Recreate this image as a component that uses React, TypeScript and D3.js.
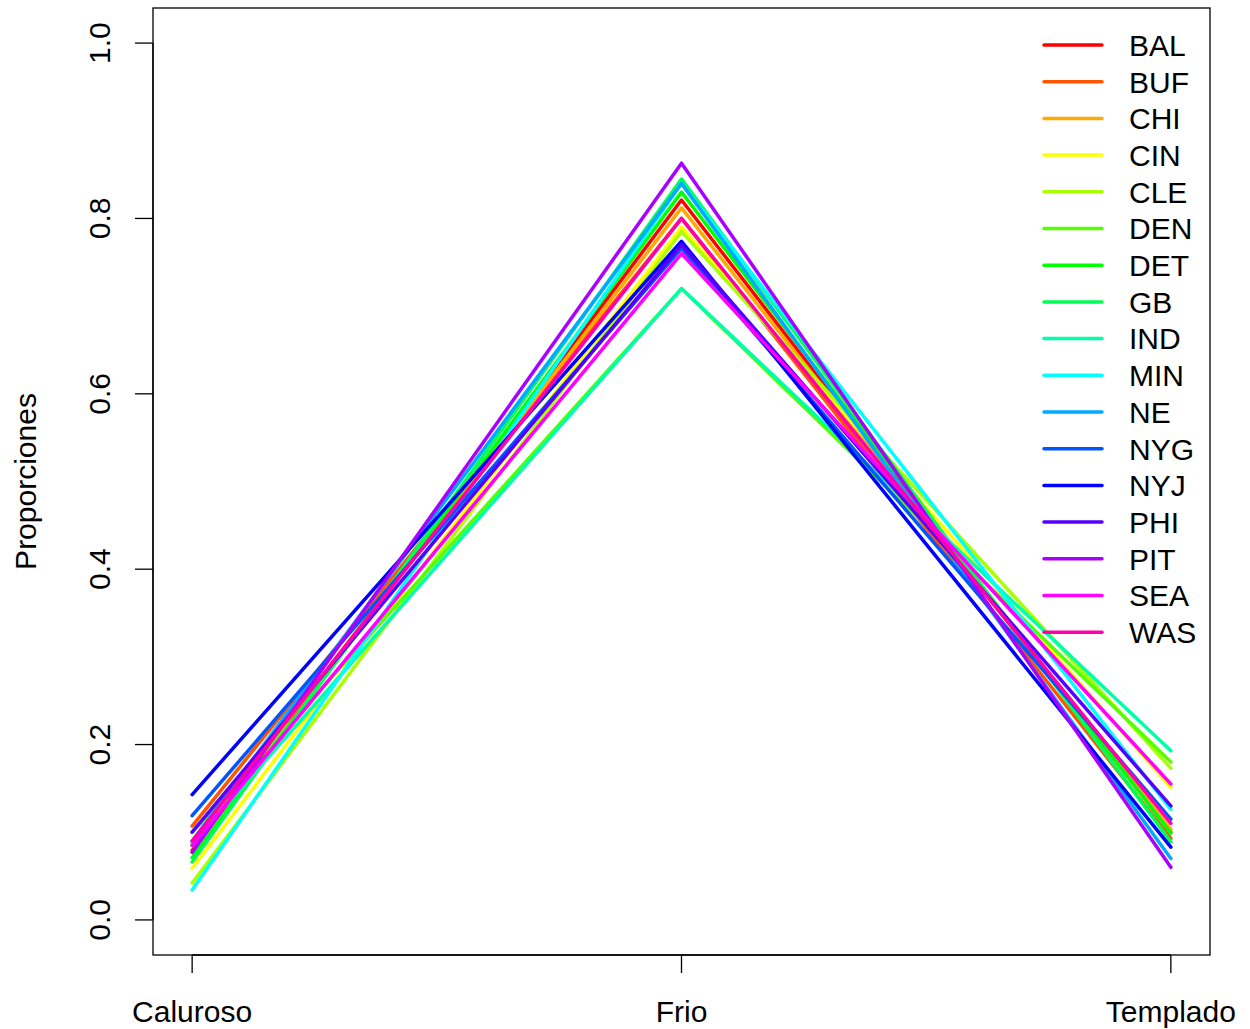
import React from "react";
import * as d3 from "d3";

const categories = ["Caluroso", "Frio", "Templado"];
const teams = ["BAL","BUF","CHI","CIN","CLE","DEN","DET","GB","IND","MIN","NE","NYG","NYJ","PHI","PIT","SEA","WAS"];
const caluroso = [0.079, 0.107, 0.085, 0.059, 0.042, 0.100, 0.071, 0.066, 0.087, 0.034, 0.090, 0.119, 0.143, 0.100, 0.077, 0.085, 0.090];
const frio     = [0.821, 0.800, 0.812, 0.790, 0.785, 0.720, 0.830, 0.845, 0.720, 0.840, 0.840, 0.766, 0.774, 0.770, 0.863, 0.760, 0.800];
const templado = [0.100, 0.093, 0.103, 0.151, 0.173, 0.180, 0.099, 0.089, 0.193, 0.126, 0.070, 0.115, 0.083, 0.130, 0.060, 0.155, 0.110];
const yTicks = [0, 0.2, 0.4, 0.6, 0.8, 1.0];

const W = 1250, H = 1029;
const FONT = "'Liberation Sans', Arial, Helvetica, sans-serif";

export default function App() {
  const left = 153, right = 1210, top = 8, bottom = 955;
  const x = d3.scaleLinear().domain([0.92, 3.08]).range([left, right]);
  const y = d3.scaleLinear().domain([-0.04, 1.04]).range([bottom, top]);
  const colors = teams.map((_, i) => d3.hsl(i * 20, 1, 0.5).formatHex());
  const line = d3.line<number>().x((_, i) => x(i + 1)).y((d) => y(d));
  const series = teams.map((t, i) => [caluroso[i], frio[i], templado[i]]);
  const legX1 = 1044, legX2 = 1102, legTX = 1129, legY0 = 45, legStep = 36.7;

  return (
    <svg width={W} height={H} style={{ position: "absolute", left: 0, top: 0, background: "#fff" }} fontFamily={FONT}>
      <rect x={0} y={0} width={W} height={H} fill="#fff" />
      {series.map((s, i) => (
        <path key={teams[i]} d={line(s) || ""} fill="none" stroke={colors[i]} strokeWidth={3.5} strokeLinejoin="round" strokeLinecap="round" />
      ))}
      <rect x={left} y={top} width={right - left} height={bottom - top} fill="none" stroke="#000" strokeWidth={1.3} />
      {/* x axis */}
      <line x1={x(1)} x2={x(3)} y1={bottom} y2={bottom} stroke="#000" strokeWidth={1.3} />
      {categories.map((c, i) => (
        <g key={c}>
          <line x1={x(i + 1)} x2={x(i + 1)} y1={bottom} y2={bottom + 18} stroke="#000" strokeWidth={1.3} />
          <text x={x(i + 1)} y={1022} textAnchor="middle" fontSize={30} fill="#000">{c}</text>
        </g>
      ))}
      {/* y axis */}
      <line x1={left} x2={left} y1={y(0)} y2={y(1)} stroke="#000" strokeWidth={1.3} />
      {yTicks.map((t) => (
        <g key={t}>
          <line x1={left - 18} x2={left} y1={y(t)} y2={y(t)} stroke="#000" strokeWidth={1.3} />
          <text transform={`translate(110,${y(t)}) rotate(-90)`} textAnchor="middle" fontSize={30} fill="#000">{t.toFixed(1)}</text>
        </g>
      ))}
      <text transform={`translate(36,${(top + bottom) / 2}) rotate(-90)`} textAnchor="middle" fontSize={30} fill="#000">Proporciones</text>
      {/* legend */}
      {teams.map((t, i) => (
        <g key={t}>
          <line x1={legX1} x2={legX2} y1={legY0 + i * legStep} y2={legY0 + i * legStep} stroke={colors[i]} strokeWidth={3.5} strokeLinecap="round" />
          <text x={legTX} y={legY0 + i * legStep} dy="0.36em" fontSize={30} fill="#000">{t}</text>
        </g>
      ))}
    </svg>
  );
}
